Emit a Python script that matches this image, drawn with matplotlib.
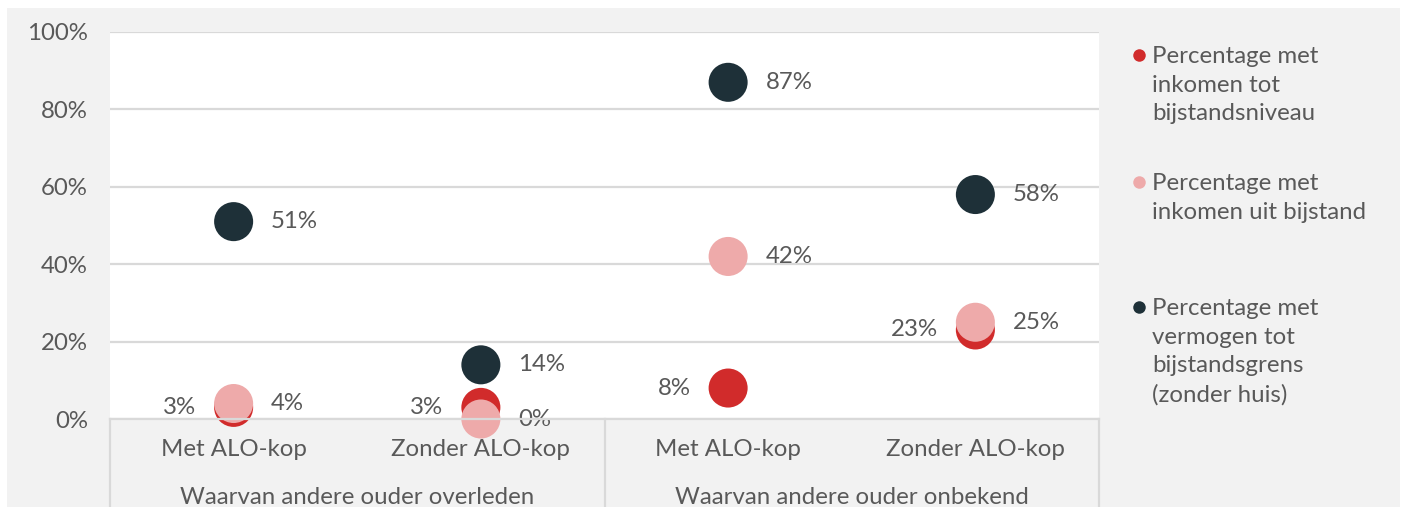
import matplotlib.pyplot as plt
from matplotlib.patches import Rectangle
from matplotlib.lines import Line2D
from matplotlib.transforms import blended_transform_factory

plt.rcParams['font.family'] = ['Lato', 'DejaVu Sans']

categories = ['Met ALO-kop', 'Zonder ALO-kop', 'Met ALO-kop', 'Zonder ALO-kop']
groups = ['Waarvan andere ouder overleden', 'Waarvan andere ouder onbekend']
series_names = ['Percentage met\ninkomen tot\nbijstandsniveau',
                'Percentage met\ninkomen uit bijstand',
                'Percentage met\nvermogen tot\nbijstandsgrens\n(zonder huis)']
inkomen_tot = [3, 3, 8, 23]
inkomen_uit = [4, 0, 42, 25]
vermogen = [51, 14, 87, 58]
yticks = [0, 20, 40, 60, 80, 100]

colors = ['#d12b2b', '#eeaaaa', '#1e3038']
text_col = '#595959'
grid_col = '#d9d9d9'
fs = 17.3

W, H = 1402, 507
fig = plt.figure(figsize=(W / 100, H / 100), dpi=100)
fig.patch.set_facecolor('white')
fig.patches.append(Rectangle((7 / W, 0), 1393 / W, 499 / H, transform=fig.transFigure,
                             facecolor='#f2f2f2', edgecolor='none', zorder=-10))

left, right, top, bottom = 110, 1099, 32, 419
ax = fig.add_axes([left / W, (H - bottom) / H, (right - left) / W, (bottom - top) / H])
ax.set_facecolor('white')
ax.set_xlim(-0.5, 3.5)
ax.set_ylim(0, 100)
for s in ax.spines.values():
    s.set_visible(False)
ax.set_yticks(yticks)
ax.set_yticklabels([f'{v}%' for v in yticks])
ax.tick_params(axis='y', length=0, pad=16, labelsize=fs, labelcolor=text_col)
ax.set_xticks([])
ax.grid(axis='y', color=grid_col, linewidth=1.6)
ax.set_axisbelow(True)

x = range(len(categories))
all_series = [inkomen_tot, inkomen_uit, vermogen]
for vals, c in zip(all_series, colors):
    ax.scatter(x, vals, s=790, color=c, edgecolors='none', zorder=3, clip_on=False)

# data labels
for i in x:
    ax.annotate(f'{inkomen_tot[i]}%', (i, inkomen_tot[i]), xytext=(-27, 0),
                textcoords='offset points', ha='right', va='center',
                fontsize=fs, color=text_col, zorder=4)
    for vals in (inkomen_uit, vermogen):
        ax.annotate(f'{vals[i]}%', (i, vals[i]), xytext=(27, 0),
                    textcoords='offset points', ha='left', va='center',
                    fontsize=fs, color=text_col, zorder=4)

# category axis boxes
fy = lambda py: (H - py) / H
fx = lambda px: px / W
for px in (left, 605, right):
    fig.add_artist(Line2D([fx(px), fx(px)], [fy(bottom), fy(H)], color=grid_col, lw=1.6))
fig.add_artist(Line2D([fx(left), fx(right)], [fy(bottom), fy(bottom)], color=grid_col, lw=1.6))

trans = blended_transform_factory(ax.transData, fig.transFigure)
for i, c in enumerate(categories):
    ax.text(i, fy(450), c, transform=trans, ha='center', va='center',
            fontsize=fs, color=text_col)
for g, name in enumerate(groups):
    ax.text(2 * g + 0.5, fy(497), name, transform=trans, ha='center', va='center',
            fontsize=fs, color=text_col)

# legend
legend_top = [55, 182, 307]
for name, c, ty in zip(series_names, colors, legend_top):
    fig.add_artist(Line2D([fx(1139)], [fy(ty)], marker='o', markersize=9,
                          color=c, markeredgecolor='none', linestyle='none'))
    fig.text(fx(1152), fy(ty - 9), name, ha='left', va='top', fontsize=fs,
             color=text_col, linespacing=1.45)

fig.savefig('out.png', dpi=100, facecolor=fig.get_facecolor())
